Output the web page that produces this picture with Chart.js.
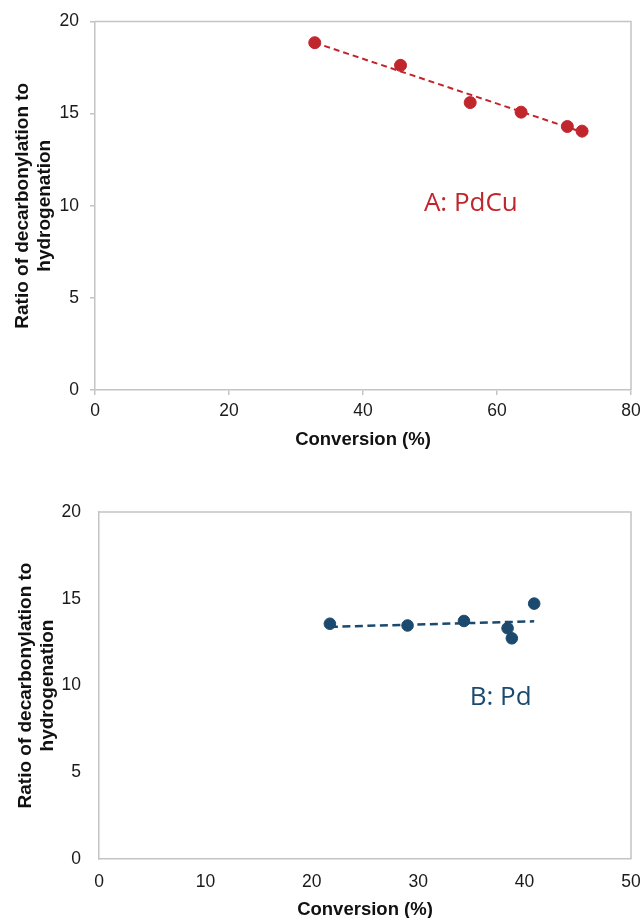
<!DOCTYPE html>
<html>
<head>
<meta charset="utf-8">
<script src="https://cdn.jsdelivr.net/npm/chart.js@4/dist/chart.umd.min.js"></script>
<style>
  html, body { margin: 0; padding: 0; background: #fff; }
  .box { position: absolute; left: 0; width: 643px; }
  #top { top: 0; height: 460px; }
  #bottom { top: 460px; height: 458px; }
</style>
</head>
<body>
<div class="box" id="top"><canvas id="chartA" width="643" height="460"></canvas></div>
<div class="box" id="bottom"><canvas id="chartB" width="643" height="458"></canvas></div>
<script>
// A: PdCu
const pdcuConversion = [32.8, 45.6, 56.0, 63.6, 70.5, 72.7];
const pdcuRatio = [18.85, 17.62, 15.6, 15.08, 14.3, 14.05];
const pdcuTrendX = [32.8, 72.7];
const pdcuTrendY = [18.85, 14.0];

// B: Pd
const pdConversion = [21.7, 29.0, 34.3, 38.4, 38.8, 40.9];
const pdRatio = [13.56, 13.46, 13.72, 13.3, 12.72, 14.72];
const pdTrendX = [21.7, 40.9];
const pdTrendY = [13.38, 13.7];

const xTicksA = [0, 20, 40, 60, 80];
const xTicksB = [0, 10, 20, 30, 40, 50];
const yTicks = [0, 5, 10, 15, 20];

const RED = '#c0262c';
const BLUE = '#1b4a6e';
const AXIS = '#c4c4c4';
const FONT = "'Liberation Sans', Arial, sans-serif";

const toPoints = (xs, ys) => xs.map((x, i) => ({ x, y: ys[i] }));

// top and right edges of the plot box, plus the panel label
const frameAndLabel = {
  id: 'frameAndLabel',
  afterDraw(chart, args, opts) {
    const { ctx, chartArea: a, scales } = chart;
    ctx.save();
    ctx.strokeStyle = AXIS;
    ctx.lineWidth = 1.5;
    ctx.beginPath();
    ctx.moveTo(a.left, a.top);
    ctx.lineTo(a.right, a.top);
    ctx.lineTo(a.right, a.bottom);
    ctx.stroke();
    ctx.fillStyle = opts.color;
    ctx.font = "26px 'Open Sans', 'Noto Sans', sans-serif";
    ctx.textAlign = 'center';
    ctx.textBaseline = 'middle';
    ctx.fillText(opts.text, scales.x.getPixelForValue(opts.x), scales.y.getPixelForValue(opts.y));
    ctx.restore();
  }
};

function makeChart(id, cfg) {
  return new Chart(document.getElementById(id), {
    type: 'scatter',
    data: {
      datasets: [
        {
          data: toPoints(cfg.xs, cfg.ys),
          backgroundColor: cfg.color,
          borderColor: cfg.color,
          pointRadius: cfg.radius,
          pointHoverRadius: cfg.radius,
          order: 1
        },
        {
          type: 'line',
          data: toPoints(cfg.tx, cfg.ty),
          borderColor: cfg.color,
          borderWidth: cfg.dashWidth,
          borderDash: cfg.dash,
          pointRadius: 0,
          fill: false,
          order: 2
        }
      ]
    },
    options: {
      responsive: false,
      animation: false,
      layout: { padding: { top: cfg.top, right: 12, bottom: 0, left: 0 } },
      plugins: {
        legend: { display: false },
        tooltip: { enabled: false },
        frameAndLabel: { text: cfg.label, x: cfg.labelX, y: cfg.labelY, color: cfg.color }
      },
      scales: {
        x: {
          type: 'linear',
          min: 0,
          max: cfg.xMax,
          afterBuildTicks: s => { s.ticks = cfg.xTicks.map(v => ({ value: v })); },
          afterFit: s => { s.height = cfg.xHeight; s.paddingLeft = 0; s.paddingRight = 0; },
          grid: { drawOnChartArea: false, drawTicks: cfg.ticks, tickLength: 5, color: AXIS, lineWidth: 1.5 },
          border: { display: true, color: AXIS, width: 1.5 },
          ticks: { padding: cfg.xPad, color: '#1a1a1a', font: { family: FONT, size: 17.5 } },
          title: {
            display: true,
            text: 'Conversion (%)',
            color: '#111',
            font: { family: FONT, size: 18.5, weight: 'bold', lineHeight: 1 },
            padding: { top: 0, bottom: cfg.xTitlePad }
          }
        },
        y: {
          type: 'linear',
          min: 0,
          max: 20,
          afterBuildTicks: s => { s.ticks = yTicks.map(v => ({ value: v })); },
          afterFit: s => { s.width = cfg.yWidth; },
          grid: { drawOnChartArea: false, drawTicks: cfg.ticks, tickLength: 5, color: AXIS, lineWidth: 1.5 },
          border: { display: true, color: AXIS, width: 1.5 },
          ticks: { padding: cfg.yPad, color: '#1a1a1a', font: { family: FONT, size: 17.5 } },
          title: {
            display: true,
            text: ['Ratio of decarbonylation to', 'hydrogenation'],
            color: '#111',
            font: { family: FONT, size: 19, weight: 'bold', lineHeight: 1.2 },
            padding: { top: cfg.yTitlePad, bottom: 0 }
          }
        }
      }
    },
    plugins: [frameAndLabel]
  });
}

makeChart('chartA', {
  xs: pdcuConversion, ys: pdcuRatio, tx: pdcuTrendX, ty: pdcuTrendY,
  color: RED, radius: 6, dash: [6, 4], dashWidth: 2,
  xMax: 80, xTicks: xTicksA, label: 'A: PdCu', labelX: 56.1, labelY: 10.1,
  top: 20, yWidth: 95, xHeight: 70, ticks: true,
  xPad: 6, yPad: 11, xTitlePad: 11, yTitlePad: 11
});

makeChart('chartB', {
  xs: pdConversion, ys: pdRatio, tx: pdTrendX, ty: pdTrendY,
  color: BLUE, radius: 5.8, dash: [8, 4.5], dashWidth: 2.5,
  xMax: 50, xTicks: xTicksB, label: 'B: Pd', labelX: 37.75, labelY: 9.32,
  top: 52, yWidth: 99, xHeight: 59, ticks: false,
  xPad: 13, yPad: 18, xTitlePad: -1, yTitlePad: 14
});
</script>
</body>
</html>
